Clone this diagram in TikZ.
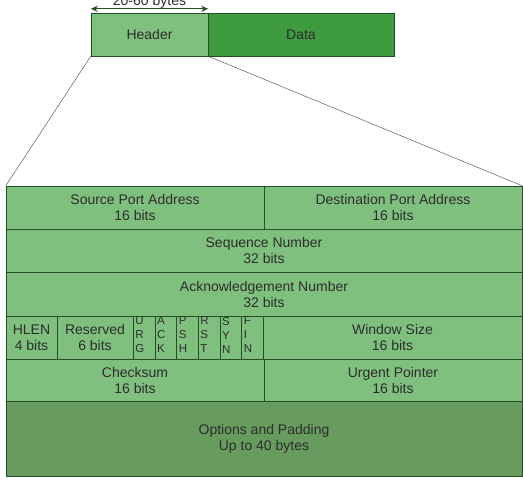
\documentclass[tikz,border=0pt]{standalone}
\usepackage{fontspec}
\setmainfont{Liberation Sans}
\usepackage{xcolor}
\usetikzlibrary{arrows.meta,positioning}

\definecolor{cellgreen}{RGB}{128,192,127}
\definecolor{datagreen}{RGB}{62,155,64}
\definecolor{optgreen}{RGB}{104,156,94}
\definecolor{edgegreen}{RGB}{36,78,36}
\definecolor{txtgray}{RGB}{45,45,45}

\begin{document}
\begin{tikzpicture}[x=1pt,y=-1pt,
  cell/.style={rectangle, draw=edgegreen, fill=cellgreen, inner sep=0pt,
    minimum height=43pt, text=txtgray, align=center,
    font=\fontsize{14}{16}\selectfont},
  flag/.style={cell, minimum width=21.7pt, align=left,
    font=\fontsize{11.5}{14}\selectfont},
  >={Stealth[length=7pt,width=6pt]}
]
  \useasboundingbox (0,0) rectangle (523,481);

  % segment
  \node[cell, minimum width=117pt] (header) at (149.5,34.5) {Header};
  \node[cell, minimum width=186pt, fill=datagreen] (data) at (301,34.5) {Data};
  \draw[<->, edgegreen, thick] ([yshift=4pt]header.north west) --
    node[anchor=base, yshift=3.5pt, text=txtgray, font=\fontsize{14}{16}\selectfont] {20-60 bytes}
    ([yshift=4pt]header.north east);

  % header fields
  \node[cell, minimum width=258pt] (src) at (135,207.5) {Source Port Address\\16 bits};
  \node[cell, minimum width=258pt] (dst) at (393,207.5) {Destination Port Address\\16 bits};
  \node[cell, minimum width=516pt] (seq) at (264,250.5) {Sequence Number\\32 bits};
  \node[cell, minimum width=516pt, minimum height=44pt] (ack) at (264,294) {Acknowledgement Number\\32 bits};
  \node[cell, minimum width=51pt] (hlen) at (31.5,337.5) {HLEN\\4 bits};
  \node[cell, minimum width=76pt] (rsv) at (95,337.5) {Reserved\\6 bits};
  \foreach \f [count=\i from 0] in {U\\R\\G, A\\C\\K, P\\S\\H, R\\S\\T, S\\Y\\N, F\\I\\N}
    \node[flag] (flag\i) at ({143.85+21.7*\i},337.5)
      {\parbox[c][41pt][t]{17pt}{\vspace{0pt}\f}};
  \node[cell, minimum width=259pt] (win) at (392.5,337.5) {Window Size\\16 bits};
  \node[cell, minimum width=258pt, minimum height=42pt] (chk) at (135,380) {Checksum\\16 bits};
  \node[cell, minimum width=258pt, minimum height=42pt] (urg) at (393,380) {Urgent Pointer\\16 bits};
  \node[cell, minimum width=516pt, minimum height=75pt, fill=optgreen] (opt) at (264,438.5) {Options and Padding\\Up to 40 bytes};

  % zoom lines
  \draw[black!75] (header.south west) -- (src.north west);
  \draw[black!75] (header.south east) -- (dst.north east);
\end{tikzpicture}
\end{document}
